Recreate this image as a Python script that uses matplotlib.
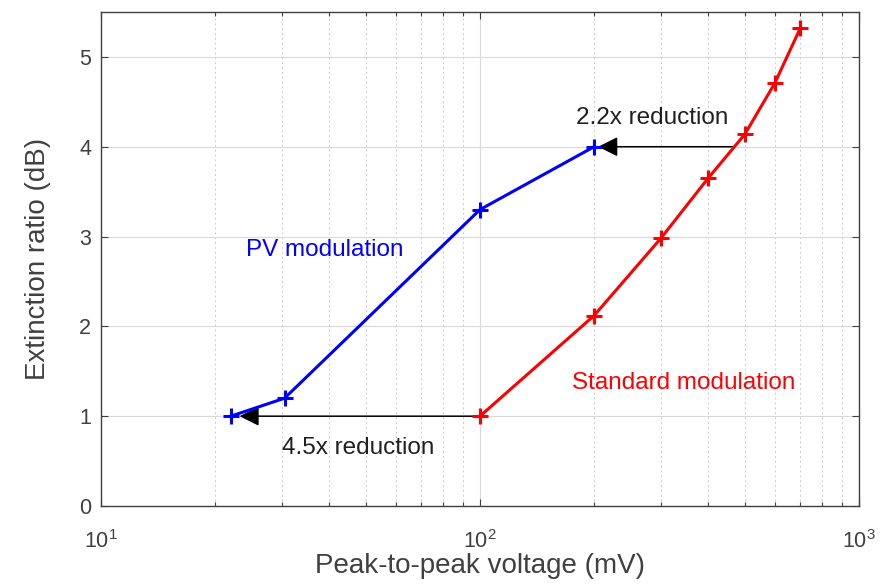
import matplotlib
matplotlib.use("Agg")
import matplotlib.pyplot as plt
from matplotlib.ticker import LogLocator, NullFormatter

plt.rcParams['font.family'] = ['Liberation Sans', 'DejaVu Sans']
plt.rcParams['mathtext.fontset'] = 'custom'
plt.rcParams['mathtext.rm'] = 'Liberation Sans'

pv_x = [22, 30.5, 100, 200]
pv_y = [1.0, 1.2, 3.3, 4.0]
std_x = [100, 200, 300, 400, 500, 600, 700]
std_y = [1.0, 2.12, 2.98, 3.65, 4.14, 4.71, 5.32]

arrow1_from = (468, 4.0)
arrow1_to = (205, 4.0)
arrow2_from = (100, 1.0)
arrow2_to = (23.2, 1.0)

fig = plt.figure(figsize=(8.8, 5.86), dpi=100)
ax = fig.add_axes([101/880, 1-506/586, (859-101)/880, (506-12)/586])
ax.set_xscale('log')
ax.set_xlim(10, 1000)
ax.set_ylim(0, 5.5)

gc = '#404040'
ax.set_yticks([0, 1, 2, 3, 4, 5])
ax.xaxis.set_major_locator(LogLocator(base=10, numticks=10))
ax.xaxis.set_minor_locator(LogLocator(base=10, subs=range(2, 10), numticks=20))
ax.xaxis.set_minor_formatter(NullFormatter())
ax.tick_params(which='both', direction='in', top=True, right=True, colors=gc, labelsize=15.5)
ax.tick_params(which='major', length=5, width=0.8)
ax.tick_params(which='minor', length=3, width=0.8)
ax.tick_params(axis='x', pad=17)
ax.tick_params(axis='y', pad=7)
for s in ax.spines.values():
    s.set_color(gc)
    s.set_linewidth(1.0)

ax.grid(True, which='major', axis='both', color='#d9d9d9', linewidth=0.8, linestyle='-')
ax.grid(True, which='minor', axis='x', color='#cccccc', linewidth=0.7, linestyle=(0, (2, 3)))
ax.set_axisbelow(True)

ax.plot(pv_x, pv_y, color='#0000ff', linewidth=2.2, marker='+', markersize=12, markeredgewidth=2.2, zorder=3)
ax.plot(std_x, std_y, color='#ff0000', linewidth=2.2, marker='+', markersize=12, markeredgewidth=2.2, zorder=3)

ap = dict(arrowstyle='-|>,head_length=0.6,head_width=0.3', mutation_scale=20,
          color='black', linewidth=1.1, shrinkA=0, shrinkB=0)
ax.annotate('', xy=arrow1_to, xytext=arrow1_from, arrowprops=ap, zorder=2)
ax.annotate('', xy=arrow2_to, xytext=arrow2_from, arrowprops=ap, zorder=2)

fs = 17.5
ax.text(284, 4.32, '2.2x reduction', fontsize=fs, color='#202020', ha='center', va='center')
ax.text(47.7, 0.65, '4.5x reduction', fontsize=fs, color='#202020', ha='center', va='center')
ax.text(39, 2.85, 'PV modulation', fontsize=fs, color='#0000ff', ha='center', va='center')
ax.text(345, 1.37, 'Standard modulation', fontsize=fs, color='#ff0000', ha='center', va='center')

ax.set_xlabel('Peak-to-peak voltage (mV)', fontsize=20, color=gc, labelpad=0)
ax.set_ylabel('Extinction ratio (dB)', fontsize=20, color=gc, labelpad=20)

fig.savefig('out.png', dpi=100)
